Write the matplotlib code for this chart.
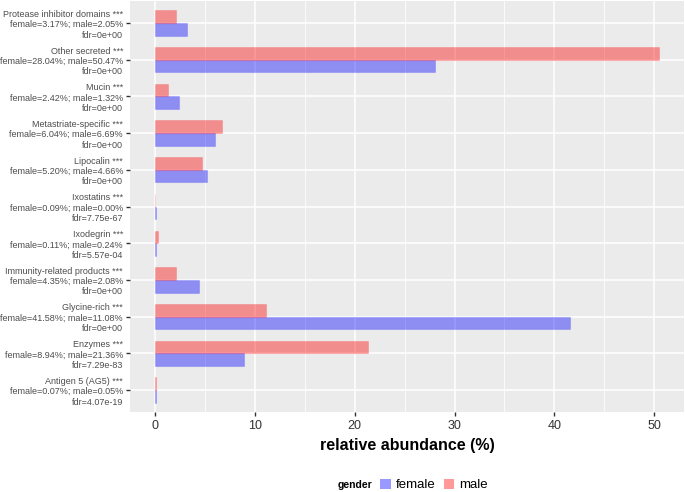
import numpy as np
import matplotlib.pyplot as plt
from matplotlib.patches import Patch

# categories in ggplot order (first = bottom)
categories = ["Antigen 5 (AG5)", "Enzymes", "Glycine-rich", "Immunity-related products",
              "Ixodegrin", "Ixostatins", "Lipocalin", "Metastriate-specific",
              "Mucin", "Other secreted", "Protease inhibitor domains"]
female = [0.07, 8.94, 41.58, 4.35, 0.11, 0.09, 5.20, 6.04, 2.42, 28.04, 3.17]
male = [0.05, 21.36, 11.08, 2.08, 0.24, 0.00, 4.66, 6.69, 1.32, 50.47, 2.05]
fdr = ["4.07e-19", "7.29e-83", "0e+00", "0e+00", "5.57e-04", "7.75e-67",
       "0e+00", "0e+00", "0e+00", "0e+00", "0e+00"]
stars = ["***"] * len(categories)

labels = [f"{c} {s}\nfemale={f:.2f}%; male={m:.2f}%\nfdr={q}"
          for c, s, f, m, q in zip(categories, stars, female, male, fdr)]

plt.rcParams["font.family"] = ["Liberation Sans", "DejaVu Sans"]

bg = "#EBEBEB"
c_female = (0.0, 0.0, 1.0, 0.4)
c_male = (1.0, 0.0, 0.0, 0.4)

fig = plt.figure(figsize=(6.85, 4.92), dpi=100)
ax = fig.add_axes([130 / 685, 1 - 412 / 492, 554 / 685, 411 / 492])
ax.set_facecolor(bg)

y = np.arange(len(categories))
h = 0.345
ax.barh(y - h / 2, female, height=h, color=c_female, edgecolor=(0.0, 0.0, 1.0, 0.15),
        linewidth=0.8, label="female", zorder=3)
ax.barh(y + h / 2, male, height=h, color=c_male, edgecolor=(1.0, 0.0, 0.0, 0.15),
        linewidth=0.8, label="male", zorder=3)

xmax = max(max(female), max(male))
pad = 0.05 * xmax
ax.set_xlim(-pad, xmax + pad)
ax.set_ylim(-0.6, len(categories) - 0.4)

ax.set_xticks([0, 10, 20, 30, 40, 50])
ax.set_xticks([5, 15, 25, 35, 45], minor=True)
ax.set_yticks(y)
ax.set_yticklabels(labels, fontsize=6.5, linespacing=1.2)
ax.tick_params(axis="x", labelsize=9, colors="#333333", length=3, width=1,
               labelcolor="#333333", pad=3)
ax.tick_params(axis="y", colors="#333333", length=3, width=1, labelcolor="#4D4D4D", pad=2)
ax.tick_params(which="minor", length=0)
ax.grid(True, which="major", color="white", linewidth=1.1, zorder=0)
ax.grid(True, which="minor", axis="x", color="white", linewidth=0.55, zorder=0)
ax.set_axisbelow(True)
for s in ax.spines.values():
    s.set_visible(False)

ax.set_xlabel("relative abundance (%)", fontsize=11.5, fontweight="bold", labelpad=4)

# legend at bottom
fig.text(355 / 685, 1 - 485 / 492, "gender", fontsize=7.5, fontweight="bold",
         ha="center", va="center")
handles = [Patch(facecolor=c_female, edgecolor="none"), Patch(facecolor=c_male, edgecolor="none")]
fig.legend(handles, ["female", "male"], loc="center", bbox_to_anchor=(434 / 685, 1 - 485 / 492),
           ncol=2, frameon=False, fontsize=9.5, handlelength=0.8, handleheight=0.8,
           handletextpad=0.4, columnspacing=0.6, borderpad=0)

plt.savefig("out.png", dpi=100)
